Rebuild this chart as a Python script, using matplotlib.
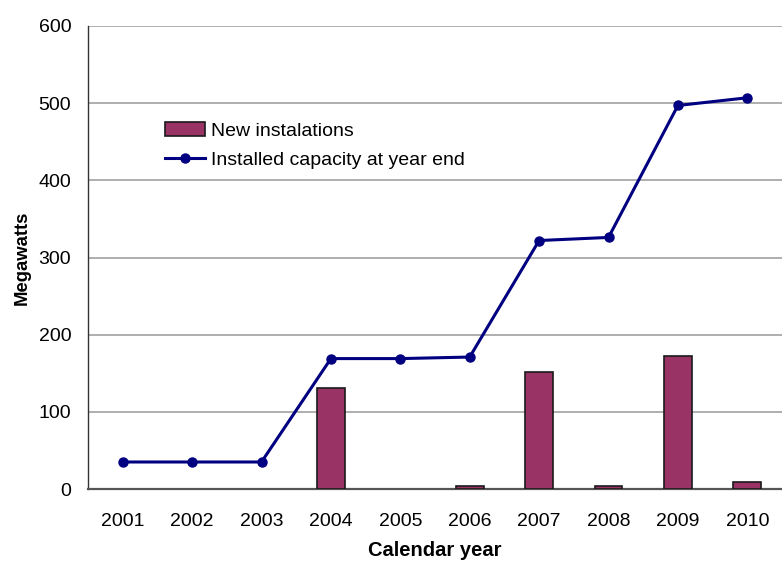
import matplotlib
matplotlib.use("Agg")
import matplotlib.pyplot as plt
import numpy as np

plt.rcParams['font.family'] = ['Liberation Sans', 'DejaVu Sans']

years = ["2001", "2002", "2003", "2004", "2005", "2006", "2007", "2008", "2009", "2010"]
new_installations = [0, 0, 0, 131, 0, 4, 151, 4, 173, 9]
installed_capacity = [35, 35, 35, 169, 169, 171, 322, 326, 497, 507]

fig = plt.figure(figsize=(7.82, 5.61), dpi=100)
ax = fig.add_axes([88/782, 72/561, 694/782, 463/561])

x = np.arange(len(years))
edge = ["#1a1a1a" if v > 0 else "none" for v in new_installations]
bars = ax.bar(x, new_installations, width=0.4, color="#993366", edgecolor=edge,
              linewidth=1.2, label="New instalations", zorder=3)
line, = ax.plot(x, installed_capacity, color="#000080", linewidth=2.2, marker="o", markersize=6.5,
                label="Installed capacity at year end", zorder=4)

ax.set_xlim(-0.5, len(years) - 0.5)
ax.set_ylim(0, 600)
ax.set_yticks(range(0, 601, 100))
ax.set_xticks(x)
ax.set_xticklabels(years)
ax.yaxis.grid(True, color="#999999", linewidth=1.1, zorder=0)
ax.set_axisbelow(True)
for s in ["top", "right"]:
    ax.spines[s].set_visible(False)
ax.spines["left"].set_color("#333333")
ax.spines["bottom"].set_color("#555555")
ax.spines["left"].set_linewidth(1.0)
ax.spines["bottom"].set_linewidth(1.6)
ax.tick_params(axis="both", length=0, labelsize=14, colors="black")
ax.tick_params(axis="y", pad=12)
ax.tick_params(axis="x", pad=17)

ax.set_ylabel("Megawatts", fontsize=13.3, fontweight="bold", labelpad=6)
ax.set_xlabel("Calendar year", fontsize=14.5, fontweight="bold", labelpad=8)

bar_handle = plt.Rectangle((0, 0), 1, 1, facecolor="#993366", edgecolor="#1a1a1a", linewidth=1.2)
leg = ax.legend([bar_handle, line], ["New instalations", "Installed capacity at year end"],
                loc="upper left", bbox_to_anchor=(165/782, 1 - 122/561),
                bbox_transform=fig.transFigure, frameon=False, fontsize=14,
                handlelength=2.05, handletextpad=0.3, labelspacing=0.62, borderpad=0,
                borderaxespad=0)

fig.savefig("out.png", dpi=100)
